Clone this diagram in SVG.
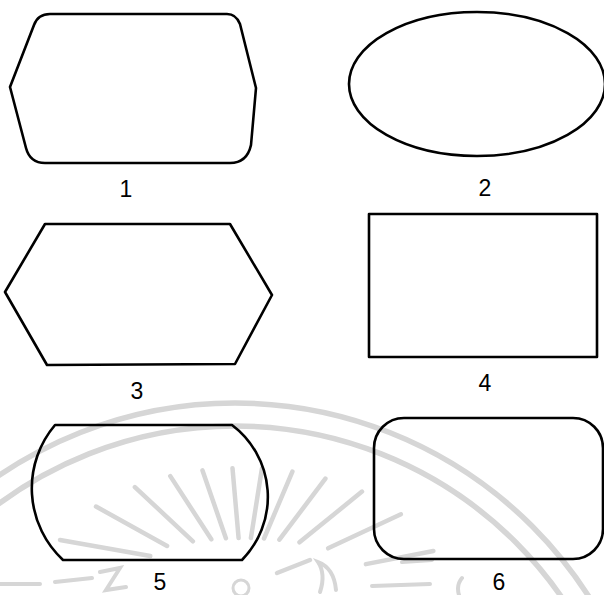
<svg xmlns="http://www.w3.org/2000/svg" width="604" height="595" viewBox="0 0 604 595">
<style>
.wm{fill:none;stroke:#d6d6d6;stroke-linecap:round}
.sh{fill:none;stroke:#000;stroke-width:2.6;stroke-linejoin:round}
.lb{font-family:"Liberation Sans",Arial,sans-serif;font-size:23px;fill:#000;text-anchor:middle}
</style>
<rect width="604" height="595" fill="#fff"/>
<g id="watermark" class="wm">
<circle cx="235" cy="823" r="420" stroke-width="5.5"/>
<circle cx="235" cy="823" r="397" stroke-width="5.5"/>
<g stroke-width="4.5">
<line x1="365.9" y1="564.1" x2="433.4" y2="551"/>
<line x1="328.1" y1="548.3" x2="400.9" y2="514.3"/>
<line x1="299.5" y1="542.3" x2="362" y2="491.6"/>
<line x1="279.4" y1="539.7" x2="325.4" y2="478.6"/>
<line x1="264" y1="538.5" x2="292.4" y2="471.6"/>
<line x1="250.9" y1="538.1" x2="261.9" y2="468.6"/>
<line x1="238.6" y1="538.1" x2="232.5" y2="468.2"/>
<line x1="225.9" y1="538.3" x2="202.5" y2="470.4"/>
<line x1="211.3" y1="539.3" x2="170.3" y2="476.1"/>
<line x1="192.9" y1="541.3" x2="134.9" y2="487.1"/>
<line x1="167.1" y1="546" x2="96" y2="506.5"/>
<line x1="150.3" y1="556" x2="60" y2="540"/>
<line x1="277" y1="573" x2="310" y2="560"/>
</g>
<circle cx="241" cy="588" r="8" stroke-width="3"/>
<g stroke-width="4">
<path d="M0,584 L40,584 M55,582 L92,578 M100,572 L120,568 L106,590 L126,587"/>
<path d="M320,592 Q326,574 318,562 Q334,568 336,590"/>
<path d="M372,586 L430,584 M402,562 L432,560 M462,578 Q456,585 459,595"/>
</g>
</g>
<g id="node1">
<path class="sh" d="M50,14 L227,14 Q236,14 240,24 L256,88 L251,145 Q247,163 230,163 L45,163 Q30,163 26,148 L10,87 L34,25 Q38,14 50,14 Z"/>
<text class="lb" x="126" y="197">1</text>
</g>
<g id="node2">
<ellipse class="sh" cx="477" cy="84" rx="128" ry="72"/>
<text class="lb" x="485" y="196">2</text>
</g>
<g id="node3">
<polygon class="sh" points="45,224 230,224 272,295 235,364 47,365 5,292"/>
<text class="lb" x="137" y="399">3</text>
</g>
<g id="node4">
<rect class="sh" x="369" y="214" width="228" height="143" stroke-width="3" stroke-linejoin="miter"/>
<text class="lb" x="485" y="391">4</text>
</g>
<g id="node5">
<path class="sh" d="M55,425 L232,425 A90,90 0 0 1 242,560 L63,560 A98,98 0 0 1 55,425 Z"/>
<text class="lb" x="160" y="590">5</text>
</g>
<g id="node6">
<rect class="sh" x="374" y="418" width="229" height="141" rx="30" ry="30"/>
<text class="lb" x="499" y="590">6</text>
</g>
<g id="connectors"/>
</svg>
